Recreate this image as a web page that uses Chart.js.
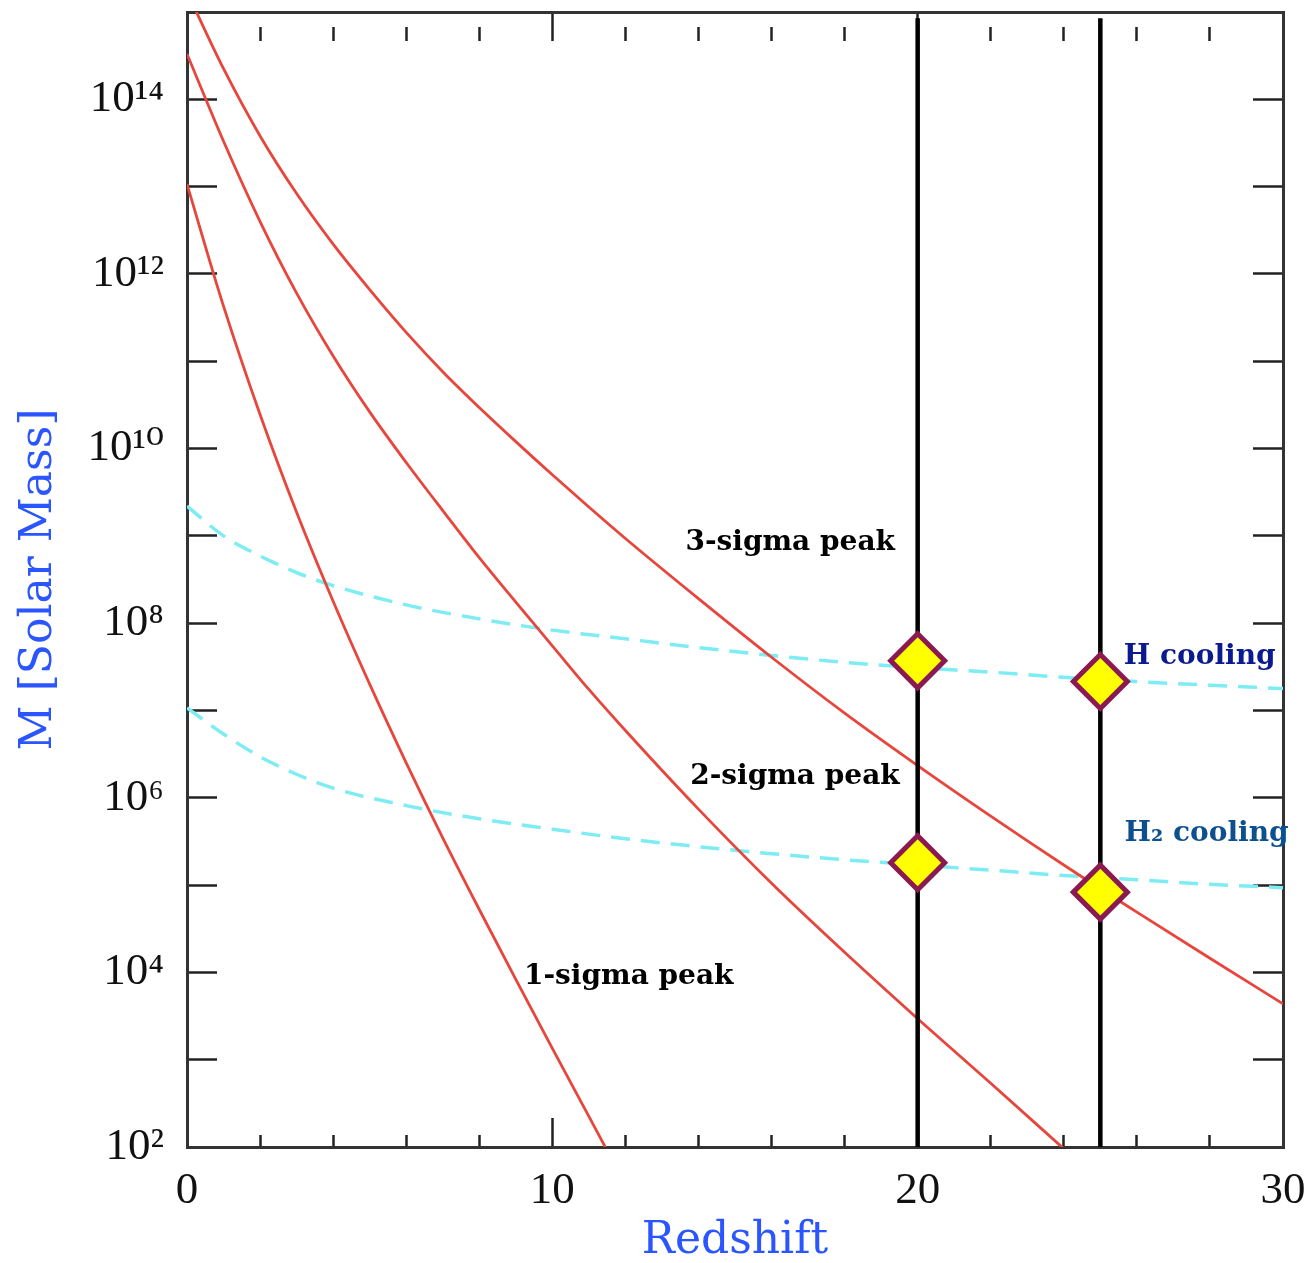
<!DOCTYPE html>
<html>
<head>
<meta charset="utf-8">
<script src="https://cdn.jsdelivr.net/npm/chart.js@4.4.1/dist/chart.umd.min.js"></script>
<style>
  body { margin: 0; background: #fff; }
  #wrap { width: 1312px; height: 1263px; }
</style>
</head>
<body>
<div id="wrap"><canvas id="massChart"></canvas></div>
<script>
// redshift samples and masses (solar masses)
const zSigma3 = [0, 1, 2, 3, 4, 5, 6, 7, 8, 9, 10, 11, 12, 14, 16, 18, 20, 22, 24, 26, 28, 30];
const mSigma3 = [1.70e15, 2.24e14, 3.80e13, 8.32e12, 2.19e12, 6.61e11, 2.14e11, 7.59e10, 2.95e10, 1.20e10, 5.01e9,
                 2.14e9, 9.33e8, 1.91e8, 4.07e7, 9.33e6, 2.34e6, 6.17e5, 1.70e5, 4.90e4, 1.45e4, 4.37e3];

const zSigma2 = [0, 1, 2, 3, 4, 5, 6, 7, 8, 9, 10, 11, 12, 14, 16, 18, 20, 22, 24];
const mSigma2 = [3.31e14, 3.31e13, 3.98e12, 6.03e11, 1.15e11, 2.63e10, 6.92e9, 1.95e9, 5.62e8, 1.74e8, 5.50e7,
                 1.74e7, 5.89e6, 7.41e5, 1.05e5, 1.70e4, 2.95e3, 537, 95.5];

const zSigma1 = [0, 1, 2, 3, 4, 5, 6, 7, 8, 9, 10, 11, 11.5];
const mSigma1 = [1.07e13, 4.27e11, 2.45e10, 1.86e9, 1.78e8, 2.00e7, 2.51e6, 3.47e5, 5.25e4, 8.32e3, 1.35e3, 224, 91];

const zCooling = [0, 1, 2, 3, 4, 6, 8, 10, 12, 14, 16, 18, 20, 22, 24, 26, 28, 30];
const mHCooling = [2.19e9, 1.00e9, 5.89e8, 3.80e8, 2.69e8, 1.62e8, 1.12e8, 8.32e7, 6.61e7, 5.25e7, 4.27e7, 3.55e7,
                   3.09e7, 2.75e7, 2.40e7, 2.14e7, 1.95e7, 1.78e7];
const mH2Cooling = [1.07e7, 5.37e6, 2.95e6, 1.86e6, 1.29e6, 8.13e5, 5.75e5, 4.37e5, 3.39e5, 2.75e5, 2.29e5, 1.95e5,
                    1.70e5, 1.48e5, 1.29e5, 1.15e5, 1.02e5, 9.33e4];

// marked redshifts and the collapse points on them
const zMarkers = [20, 25];
const zPoints = [20, 20, 25, 25];
const mPoints = [3.7e7, 1.8e5, 2.15e7, 8.3e4];
const markerSpan = [1e2, 8.5e14];

// axis ticks
const xTickValues = [0, 2, 4, 6, 8, 10, 12, 14, 16, 18, 20, 22, 24, 26, 28, 30];
const xTickLabels = ['0', '', '', '', '', '10', '', '', '', '', '20', '', '', '', '', '30'];
const yTickValues = [1e2, 1e3, 1e4, 1e5, 1e6, 1e7, 1e8, 1e9, 1e10, 1e11, 1e12, 1e13, 1e14, 1e15];
const yTickLabels = ['10²', '', '10⁴', '', '10⁶', '', '10⁸', '', '10¹⁰', '', '10¹²', '', '10¹⁴', ''];

// text labels placed in data coordinates (baseline centre)
const curveLabels = [
  { text: '3-sigma peak', z: 16.51, m: 6.95e8, color: '#000000' },
  { text: '2-sigma peak', z: 16.64, m: 1.42e6, color: '#000000' },
  { text: '1-sigma peak', z: 12.09, m: 7.33e3, color: '#000000' },
  { text: 'H cooling', z: 27.72, m: 3.45e7, color: '#0b1a8f' },
  { text: 'H₂ cooling', z: 27.91, m: 3.17e5, color: '#0c5090' }
];

const pairs = (xs, ys) => xs.map((x, i) => ({ x: x, y: ys[i] }));

const redLine = (label, xs, ys) => ({
  label: label,
  data: pairs(xs, ys),
  borderColor: '#e6463c',
  borderWidth: 2.8,
  pointRadius: 0,
  cubicInterpolationMode: 'monotone',
  order: 2
});

const coolLine = (label, ys) => ({
  label: label,
  data: pairs(zCooling, ys),
  borderColor: '#7eecf3',
  borderWidth: 3.5,
  borderDash: [19, 11],
  pointRadius: 0,
  cubicInterpolationMode: 'monotone',
  order: 3
});

const markerLine = z => ({
  label: 'z = ' + z,
  data: pairs([z, z], markerSpan),
  borderColor: '#000000',
  borderWidth: 4.5,
  pointRadius: 0,
  order: 1
});

const textPlugin = {
  id: 'curveLabels',
  afterDatasetsDraw(chart) {
    const { ctx, scales: { x, y } } = chart;
    ctx.save();
    ctx.font = 'bold 28px "DejaVu Serif"';
    ctx.textAlign = 'center';
    ctx.textBaseline = 'alphabetic';
    curveLabels.forEach(l => {
      ctx.fillStyle = l.color;
      ctx.fillText(l.text, x.getPixelForValue(l.z), y.getPixelForValue(l.m));
    });
    ctx.restore();
  }
};

const setXTicks = scale => { scale.ticks = xTickValues.map(v => ({ value: v })); };
const setYTicks = scale => { scale.ticks = yTickValues.map(v => ({ value: v })); };
const longOrShort = ctx => (ctx.tick && ctx.tick.value % 10 === 0) ? [] : [14, 200];

// fixed box sizes so the plot frame lands where the original one is
const fixHeight = h => s => { s.height = h; s.paddingLeft = 0; s.paddingRight = 0; };
const fixWidth = w => s => { s.width = w; s.paddingTop = 0; s.paddingBottom = 0; };

const frame = { display: true, color: '#333333', width: 3 };
const tickFont = { family: '"Liberation Serif", "DejaVu Serif", serif', size: 45 };
const titleFont = { family: '"DejaVu Serif", serif', size: 44, lineHeight: 1 };

new Chart(document.getElementById('massChart'), {
  type: 'line',
  data: {
    datasets: [
      {
        label: 'collapse points',
        data: pairs(zPoints, mPoints),
        showLine: false,
        pointStyle: 'rectRot',
        pointRadius: 27,
        pointBackgroundColor: '#ffff00',
        pointBorderColor: '#8b1a52',
        pointBorderWidth: 5,
        order: 0
      },
      markerLine(zMarkers[0]),
      markerLine(zMarkers[1]),
      redLine('3-sigma peak', zSigma3, mSigma3),
      redLine('2-sigma peak', zSigma2, mSigma2),
      redLine('1-sigma peak', zSigma1, mSigma1),
      coolLine('H cooling', mHCooling),
      coolLine('H2 cooling', mH2Cooling)
    ]
  },
  options: {
    responsive: true,
    maintainAspectRatio: false,
    animation: false,
    layout: { autoPadding: false, padding: { left: 0, right: 29, top: 12, bottom: 0 } },
    plugins: {
      legend: { display: false },
      tooltip: { enabled: false }
    },
    scales: {
      x: {
        type: 'linear',
        position: 'bottom',
        min: 0,
        max: 30,
        afterBuildTicks: setXTicks,
        afterFit: fixHeight(116),
        border: frame,
        grid: {
          drawOnChartArea: false,
          tickLength: -29,
          tickWidth: 2.5,
          tickColor: '#222222',
          tickBorderDash: longOrShort
        },
        ticks: {
          autoSkip: false,
          maxRotation: 0,
          padding: 46,
          color: '#111111',
          font: tickFont,
          callback: (v, i) => xTickLabels[i]
        },
        title: {
          display: true,
          text: 'Redshift',
          color: '#2a55ff',
          font: titleFont,
          padding: { top: 0, bottom: -1 }
        }
      },
      xTop: {
        type: 'linear',
        position: 'top',
        min: 0,
        max: 30,
        afterBuildTicks: setXTicks,
        afterFit: fixHeight(0),
        border: frame,
        grid: {
          drawOnChartArea: false,
          tickLength: -29,
          tickWidth: 2.5,
          tickColor: '#222222',
          tickBorderDash: longOrShort
        },
        ticks: { display: false }
      },
      y: {
        type: 'logarithmic',
        position: 'left',
        min: 1e2,
        max: 1e15,
        afterBuildTicks: setYTicks,
        afterFit: fixWidth(187),
        border: frame,
        grid: {
          drawOnChartArea: false,
          tickLength: -30,
          tickWidth: 2.5,
          tickColor: '#222222'
        },
        ticks: {
          autoSkip: false,
          padding: 53,
          color: '#111111',
          font: tickFont,
          callback: (v, i) => yTickLabels[i]
        },
        title: {
          display: true,
          text: 'M [Solar Mass]',
          color: '#2a55ff',
          font: titleFont,
          padding: { top: 18, bottom: 0 }
        }
      },
      yRight: {
        type: 'logarithmic',
        position: 'right',
        min: 1e2,
        max: 1e15,
        afterBuildTicks: setYTicks,
        afterFit: fixWidth(0),
        border: frame,
        grid: {
          drawOnChartArea: false,
          tickLength: -30,
          tickWidth: 2.5,
          tickColor: '#222222'
        },
        ticks: { display: false }
      }
    }
  },
  plugins: [textPlugin]
});
</script>
</body>
</html>
